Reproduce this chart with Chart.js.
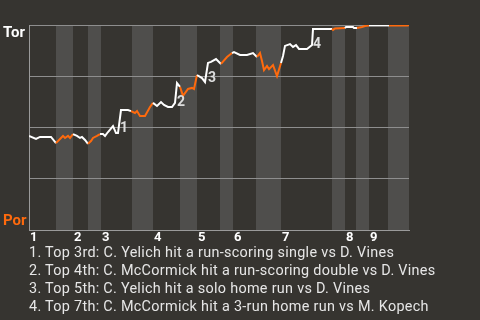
<!DOCTYPE html>
<html>
<head>
<meta charset="utf-8">
<script src="https://cdn.jsdelivr.net/npm/chart.js@4.4.0/dist/chart.umd.min.js"></script>
<style>
  html, body { margin: 0; padding: 0; background: #363430; width: 480px; height: 320px; overflow: hidden; }
  #wrap { position: absolute; left: 0; top: 0; width: 480px; height: 245px; }
  #notes { position: absolute; left: 29px; top: 244px; font: 14.4px Roboto, sans-serif; letter-spacing: 0.3px; line-height: 18px; color: #e6e6e6; white-space: nowrap; }
</style>
</head>
<body>
<div id="wrap"><canvas id="wpChart"></canvas></div>
<div id="notes"></div>
<script>
// progresso do jogo (unidades do eixo x) e probabilidade de vitória de Tor (%)
const progress = [0, 7, 11, 22, 27, 32, 34, 36, 39, 41, 44, 48, 51, 53, 56, 59, 62, 64, 68, 71,
  74, 76, 79, 84, 87, 89, 92, 99, 102, 106, 108, 111, 116, 121, 124, 128, 132, 135, 139, 143,
  146, 148, 151, 154, 159, 163, 165, 168, 173, 176, 179, 182, 187, 192, 198, 203, 205, 211, 218, 224,
  228, 231, 233, 235, 238, 240, 244, 248, 252, 254, 256, 261, 264, 267, 270, 278, 283, 284, 303, 304,
  306, 316, 317, 324, 325, 328, 333, 336, 340, 360, 379, 380];
const winProb = [45.9, 44.4, 45.4, 45.4, 42.4, 44.9, 45.9, 44.9, 45.9, 44.9, 46.8, 45.9, 44.9, 45.4, 43.9, 42.0, 43.4, 44.9, 45.9, 46.8,
  46.8, 45.9, 47.8, 50.7, 47.3, 47.3, 58.5, 58.5, 58.0, 57.1, 58.0, 55.6, 55.6, 60.0, 62.0, 60.5, 62.4, 61.0, 60.0, 60.0,
  62.0, 71.7, 69.8, 65.4, 68.8, 69.3, 68.8, 75.6, 74.1, 72.2, 81.5, 82.0, 83.4, 81.0, 84.4, 86.3, 86.8, 85.4, 85.4, 86.3,
  84.4, 86.3, 82.4, 78.0, 80.0, 78.5, 80.5, 75.1, 81.5, 84.9, 89.8, 90.7, 89.3, 90.2, 88.3, 88.3, 90.2, 98.0, 98.0, 97.6,
  98.3, 98.5, 99.0, 99.0, 98.5, 98.5, 99.0, 99.5, 99.8, 99.8, 99.8, 100];

// início de cada meia-entrada
const topStarts = [0, 44, 72, 124, 168, 204, 252, 316, 340];
const bottomStarts = [27, 59, 103, 151, 191, 227, 303, 327, 359];
const gameEnd = 380;
const inningLabels = ['1', '2', '3', '4', '5', '6', '7', '8', '9'];

// jogadas destacadas
const keyPlayX = [95, 152, 183, 288];
const keyPlayY = [49.3, 62.4, 74.1, 90.7];
const keyPlayLabels = ['1', '2', '3', '4'];
const playNotes = [
  '1. Top 3rd: C. Yelich hit a run-scoring single vs D. Vines',
  '2. Top 4th: C. McCormick hit a run-scoring double vs D. Vines',
  '3. Top 5th: C. Yelich hit a solo home run vs D. Vines',
  '4. Top 7th: C. McCormick hit a 3-run home run vs M. Kopech'
];

const teamTop = 'Tor';
const teamBottom = 'Por';
const whiteColor = '#ffffff';
const orangeColor = '#ff6a0d';

document.getElementById('notes').innerHTML = playNotes.map(t => '<div>' + t + '</div>').join('');

function inBottomHalf(x) {
  for (let i = 0; i < bottomStarts.length; i++) {
    const end = i + 1 < topStarts.length ? topStarts[i + 1] : gameEnd;
    if (x >= bottomStarts[i] && x < end) return true;
  }
  return false;
}

const fundoPlugin = {
  id: 'fundo',
  beforeDraw(chart) {
    const { ctx, chartArea, scales } = chart;
    ctx.save();
    ctx.fillStyle = '#363430';
    ctx.fillRect(0, 0, chart.width, chart.height);
    ctx.fillStyle = '#4f4e4c';
    bottomStarts.forEach((b, i) => {
      const end = i + 1 < topStarts.length ? topStarts[i + 1] : gameEnd;
      const x0 = scales.x.getPixelForValue(b);
      const x1 = scales.x.getPixelForValue(end);
      ctx.fillRect(x0, chartArea.top, x1 - x0, chartArea.bottom - chartArea.top);
    });
    ctx.restore();
  },
  afterDraw(chart) {
    const { ctx, chartArea, scales } = chart;
    ctx.save();
    ctx.font = 'bold 15px Roboto';
    ctx.textAlign = 'left';
    ctx.textBaseline = 'alphabetic';
    ctx.fillStyle = whiteColor;
    ctx.fillText(teamTop, 3, chartArea.top + 12);
    ctx.fillStyle = orangeColor;
    ctx.fillText(teamBottom, 3, chartArea.bottom - 5);

    ctx.font = 'bold 13px Roboto';
    ctx.fillStyle = whiteColor;
    topStarts.forEach((t, i) => {
      ctx.fillText(inningLabels[i], scales.x.getPixelForValue(t) + 1, chartArea.bottom + 11);
    });

    ctx.font = 'bold 14px Roboto';
    ctx.fillStyle = '#dddddd';
    ctx.textAlign = 'center';
    ctx.textBaseline = 'middle';
    keyPlayX.forEach((x, i) => {
      ctx.fillText(keyPlayLabels[i], scales.x.getPixelForValue(x), scales.y.getPixelForValue(keyPlayY[i]));
    });
    ctx.restore();
  }
};

const ctx = document.getElementById('wpChart').getContext('2d');
new Chart(ctx, {
  type: 'line',
  data: {
    datasets: [{
      data: progress.map((x, i) => ({ x: x, y: winProb[i] })),
      borderColor: whiteColor,
      borderWidth: 2,
      pointRadius: 0,
      tension: 0,
      segment: {
        borderColor: c => inBottomHalf((c.p0.parsed.x + c.p1.parsed.x) / 2) ? orangeColor : whiteColor
      }
    }]
  },
  options: {
    responsive: true,
    maintainAspectRatio: false,
    animation: false,
    layout: { padding: { left: 29, top: 25, right: 71, bottom: 15 } },
    plugins: { legend: { display: false }, tooltip: { enabled: false } },
    scales: {
      x: {
        type: 'linear',
        min: 0,
        max: gameEnd,
        grid: { display: false, drawTicks: false },
        ticks: { display: false },
        border: { display: true, color: '#9a9a9a', width: 1 }
      },
      y: {
        min: 0,
        max: 100,
        ticks: { display: false, stepSize: 25 },
        grid: { color: '#8e8e8e', drawTicks: false, lineWidth: 1 },
        border: { display: true, color: '#9a9a9a', width: 1 }
      }
    }
  },
  plugins: [fundoPlugin]
});
</script>
</body>
</html>
